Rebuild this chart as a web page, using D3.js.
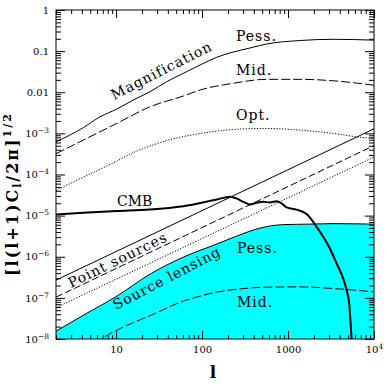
<!DOCTYPE html>
<html>
<head>
<meta charset="utf-8">
<script src="https://cdn.jsdelivr.net/npm/d3@7"></script>
<style>
body { margin: 0; background: #fff; }
text { font-family: "DejaVu Serif", serif; fill: #000; }
</style>
</head>
<body>
<svg id="chart" width="387" height="384"></svg>
<script>
// magnification bias, three scenarios
var magPessL = [2, 4.16, 6.5, 10.2, 15.8, 24.8, 38.7, 60.4, 94.5, 148, 230, 360, 564, 1375, 3350, 10000];
var magPessV = [6.2e-4, 1.38e-3, 2.53e-3, 3.9e-3, 6.46e-3, 0.0103, 0.018, 0.0288, 0.0459, 0.0707, 0.095, 0.119, 0.149, 0.181, 0.194, 0.185];
var magMidL = [2, 4.16, 10.2, 24.8, 60.4, 94.5, 230, 564, 1375, 3350, 10000];
var magMidV = [3.2e-4, 6.87e-4, 1.75e-3, 4.44e-3, 8.09e-3, 0.0113, 0.0165, 0.0206, 0.0206, 0.019, 0.0148];
var magOptL = [2, 4.16, 10.2, 15.8, 24.8, 38.7, 94.5, 230, 564, 1375, 3350, 6280, 10000];
var magOptV = [4.1e-5, 8.64e-5, 2.12e-4, 3.41e-4, 4.91e-4, 6.68e-4, 9.89e-4, 1.24e-3, 1.32e-3, 1.2e-3, 1e-3, 8.26e-4, 7.47e-4];

// point sources (straight in log-log)
var psL = [2, 10000];
var psPessV = [2.7e-7, 1.29e-3];
var psMidV = [1.04e-7, 5.05e-4];
var psOptV = [5.78e-8, 2.65e-4];

// CMB
var cmbL = [2, 4.16, 10.2, 24.8, 60.4, 148, 211, 252, 301, 360, 431, 515, 616, 737, 842, 963, 1259, 1644, 2150, 2566, 3070, 3672, 4385, 4800, 5145, 5343, 5488, 5610];
var cmbV = [1.07e-5, 1.17e-5, 1.29e-5, 1.41e-5, 1.7e-5, 2.48e-5, 2.87e-5, 2.62e-5, 2.17e-5, 1.87e-5, 2.05e-5, 2.17e-5, 2.09e-5, 2.25e-5, 1.98e-5, 1.58e-5, 1.4e-5, 1.09e-5, 5.34e-6, 3.05e-6, 1.59e-6, 6.87e-7, 2.96e-7, 1.54e-7, 7.3e-8, 2.38e-8, 1.03e-8, 5.3e-9];

// source lensing
var srcPessL = [2, 4.16, 10.2, 24.8, 60.4, 148, 252, 471, 879, 1796, 3351, 10000];
var srcPessV = [1.55e-8, 3.79e-8, 1.1e-7, 3.77e-7, 9.77e-7, 2.03e-6, 3.17e-6, 4.97e-6, 6.04e-6, 6.21e-6, 6.38e-6, 6.21e-6];
var srcMidL = [5.7, 7.1, 10.2, 17.4, 24.8, 60.4, 94.5, 148, 230, 564, 1375, 3350, 10000];
var srcMidV = [7.5e-9, 1.08e-8, 1.64e-8, 2.71e-8, 3.69e-8, 8.31e-8, 1.1e-7, 1.38e-7, 1.58e-7, 1.82e-7, 1.85e-7, 1.69e-7, 1.4e-7];

var xMajor = [10, 100, 1000, 10000];
var yMajor = [1e-8, 1e-7, 1e-6, 1e-5, 1e-4, 1e-3, 0.01, 0.1, 1];

var margin = {top: 10, right: 13, bottom: 45, left: 56},
    width = 387 - margin.left - margin.right,
    height = 384 - margin.top - margin.bottom;

var x = d3.scaleLog().domain([2, 10000]).range([0, width]);
var y = d3.scaleLog().domain([1e-8, 1]).range([height, 0]);

var zip = function(a, b) { return a.map(function(d, i) { return [d, b[i]]; }); };

var svg = d3.select("#chart").append("g")
    .attr("transform", "translate(" + margin.left + "," + margin.top + ")");

svg.append("clipPath").attr("id", "clip")
  .append("rect").attr("width", width).attr("height", height);

var plot = svg.append("g").attr("clip-path", "url(#clip)");

var line = d3.line()
    .x(function(d) { return x(d[0]); })
    .y(function(d) { return y(d[1]); })
    .curve(d3.curveMonotoneX);

var area = d3.area()
    .x(function(d) { return x(d[0]); })
    .y0(height)
    .y1(function(d) { return y(d[1]); })
    .curve(d3.curveMonotoneX);

plot.append("path")
    .datum(zip(srcPessL, srcPessV))
    .attr("d", area)
    .attr("fill", "#00ffff");

var series = [
  {d: zip(magPessL, magPessV), dash: null, w: 1},
  {d: zip(magMidL, magMidV), dash: "9,3", w: 1},
  {d: zip(magOptL, magOptV), dash: "1.2,1.6", w: 1},
  {d: zip(psL, psPessV), dash: null, w: 1},
  {d: zip(psL, psMidV), dash: "7,3", w: 1},
  {d: zip(psL, psOptV), dash: "1.2,1.6", w: 1},
  {d: zip(srcPessL, srcPessV), dash: null, w: 1},
  {d: zip(srcMidL, srcMidV), dash: "9,3", w: 1},
  {d: zip(cmbL, cmbV), dash: null, w: 2}
];

series.forEach(function(s) {
  plot.append("path")
      .datum(s.d)
      .attr("d", line)
      .attr("fill", "none")
      .attr("stroke", "#000")
      .attr("stroke-width", s.w)
      .attr("stroke-dasharray", s.dash);
});

// minor tick values
var xMinor = [], yMinor = [];
[1, 10, 100, 1000].forEach(function(b) {
  for (var k = 2; k <= 9; k++) if (b * k >= 2 && b * k < 10000) xMinor.push(b * k);
});
yMajor.slice(0, -1).forEach(function(b) {
  for (var k = 2; k <= 9; k++) yMinor.push(b * k);
});

var supFmt = function(sel) {
  sel.each(function(d) {
    var e = Math.round(Math.log10(d));
    var t = d3.select(this).text("");
    if (e === 0) t.text("1");
    else if (e === 1) t.text("10");
    else if (e === 2) t.text("100");
    else if (e === 3) t.text("1000");
    else if (e === -1) t.text("0.1");
    else if (e === -2) t.text("0.01");
    else {
      t.append("tspan").text("10");
      t.append("tspan").attr("dy", -4).attr("font-size", 7.5)
        .text((e < 0 ? "\u2212" : "") + Math.abs(e));
    }
  });
};

// axes, ticks pointing inward
var gx = svg.append("g").attr("transform", "translate(0," + height + ")")
    .call(d3.axisBottom(x).tickValues(xMajor).tickSize(-8).tickPadding(7).tickFormat(function(d) { return d; }));
gx.selectAll(".tick text").call(supFmt);
svg.append("g").attr("transform", "translate(0," + height + ")")
    .call(d3.axisBottom(x).tickValues(xMinor).tickSize(-4).tickFormat(""));
svg.append("g")
    .call(d3.axisTop(x).tickValues(xMajor).tickSize(-8).tickFormat(""));
svg.append("g")
    .call(d3.axisTop(x).tickValues(xMinor).tickSize(-4).tickFormat(""));

var gy = svg.append("g")
    .call(d3.axisLeft(y).tickValues(yMajor).tickSize(-9).tickPadding(7).tickFormat(function(d) { return d; }));
gy.selectAll(".tick text").call(supFmt);
svg.append("g")
    .call(d3.axisLeft(y).tickValues(yMinor).tickSize(-5).tickFormat(""));
svg.append("g").attr("transform", "translate(" + width + ",0)")
    .call(d3.axisRight(y).tickValues(yMajor).tickSize(-9).tickFormat(""));
svg.append("g").attr("transform", "translate(" + width + ",0)")
    .call(d3.axisRight(y).tickValues(yMinor).tickSize(-5).tickFormat(""));

svg.selectAll(".domain").remove();
svg.selectAll(".tick line").attr("stroke", "#000");
svg.selectAll(".tick text").attr("font-family", "DejaVu Serif").attr("font-size", 10).attr("fill", "#000");

svg.append("rect")
    .attr("width", width).attr("height", height)
    .attr("fill", "none").attr("stroke", "#000");

// labels
var labels = [
  {t: "Pess.", x: 236, y: 41, ls: 1},
  {t: "Mid.", x: 236, y: 75, ls: 1},
  {t: "Opt.", x: 236, y: 120, ls: 1},
  {t: "CMB", x: 117, y: 206, ls: 0},
  {t: "Pess.", x: 237, y: 253, ls: 1},
  {t: "Mid.", x: 237, y: 307, ls: 1}
];
labels.forEach(function(l) {
  d3.select("#chart").append("text")
      .attr("x", l.x).attr("y", l.y)
      .attr("font-size", 14)
      .attr("letter-spacing", l.ls)
      .text(l.t);
});

var rotLabels = [
  {t: "Magnification", x: 114, y: 100, a: -27},
  {t: "Point sources", x: 71, y: 288, a: -26},
  {t: "Source lensing", x: 116, y: 310, a: -27.5}
];
rotLabels.forEach(function(l) {
  d3.select("#chart").append("text")
      .attr("transform", "translate(" + l.x + "," + l.y + ") rotate(" + l.a + ")")
      .attr("font-size", 14)
      .attr("letter-spacing", 1)
      .text(l.t);
});

var ytitle = d3.select("#chart").append("text")
    .attr("transform", "translate(18,194) rotate(-90)")
    .attr("text-anchor", "middle")
    .attr("font-size", 16)
    .attr("font-weight", "bold")
    .attr("letter-spacing", 2);
ytitle.append("tspan").text("[l(l+1)C");
ytitle.append("tspan").attr("dy", 3).attr("font-size", 11).text("l");
ytitle.append("tspan").attr("dy", -3).text("/2\u03c0]");
ytitle.append("tspan").attr("dy", -7).attr("font-size", 11).text("1/2");

d3.select("#chart").append("text")
    .attr("x", 213).attr("y", 378)
    .attr("text-anchor", "middle")
    .attr("font-size", 17)
    .attr("font-weight", "bold")
    .text("l");
</script>
</body>
</html>
